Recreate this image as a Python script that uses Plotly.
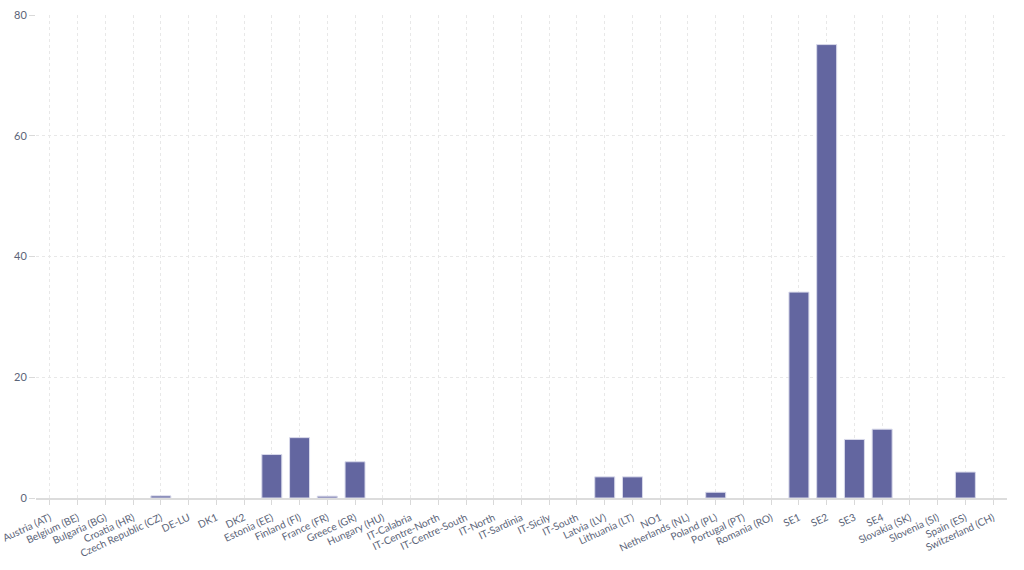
import plotly.graph_objects as go

categories = ["Austria (AT)", "Belgium (BE)", "Bulgaria (BG)", "Croatia (HR)", "Czech Republic (CZ)",
              "DE-LU", "DK1", "DK2", "Estonia (EE)", "Finland (FI)", "France (FR)", "Greece (GR)",
              "Hungary (HU)", "IT-Calabria", "IT-Centre-North", "IT-Centre-South", "IT-North",
              "IT-Sardinia", "IT-Sicily", "IT-South", "Latvia (LV)", "Lithuania (LT)", "NO1",
              "Netherlands (NL)", "Poland (PL)", "Portugal (PT)", "Romania (RO)", "SE1", "SE2",
              "SE3", "SE4", "Slovakia (SK)", "Slovenia (SI)", "Spain (ES)", "Switzerland (CH)"]
values = [0, 0, 0, 0, 0.35,
          0, 0, 0, 7.2, 10.0, 0.3, 6.0,
          0, 0, 0, 0, 0,
          0, 0, 0, 3.5, 3.5, 0,
          0, 0.95, 0, 0, 34.1, 75.1,
          9.7, 11.4, 0, 0, 4.3, 0]
y_ticks = [0, 20, 40, 60, 80]

line_widths = [1 if v > 0 else 0 for v in values]

fig = go.Figure(go.Bar(
    x=categories, y=values,
    marker=dict(color="#6366a0", line=dict(color="#d8d9ea", width=line_widths)),
))

fig.update_layout(
    width=1024, height=570,
    margin=dict(l=36, r=17, t=15, b=72),
    plot_bgcolor="white", paper_bgcolor="white",
    bargap=0.28,
    font=dict(family="Lato, Inter, sans-serif", size=11, color="#5b6478"),
    showlegend=False,
)
fig.update_xaxes(
    tickangle=-25, showgrid=True, gridcolor="#e8e8e8", griddash="dot",
    ticks="outside", ticklen=5, tickcolor="#d9d9d9", automargin=False,
    tickfont=dict(size=10.2), ticklabelstandoff=3,
    showline=True, linecolor="#dcdcdc", linewidth=2,
)
fig.update_yaxes(
    range=[0, 80], tickvals=y_ticks, showgrid=True, gridcolor="#e8e8e8", griddash="dot",
    ticks="outside", ticklen=6, tickcolor="#d9d9d9", zeroline=False, showline=False,
    automargin=False,
)

fig.write_html("out.html")
